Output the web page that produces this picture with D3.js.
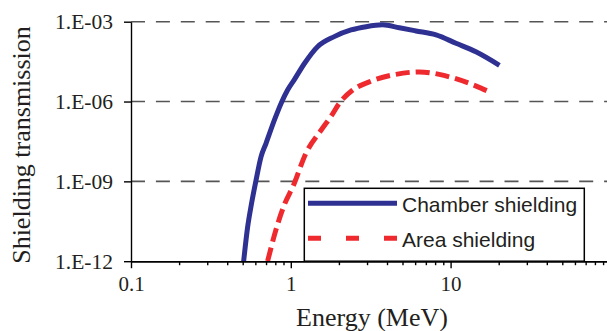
<!DOCTYPE html>
<html>
<head>
<meta charset="utf-8">
<script src="https://cdn.jsdelivr.net/npm/d3@7"></script>
<style>
  body { margin: 0; background: #fff; }
  .chart { width: 607px; height: 331px; overflow: hidden; }
</style>
</head>
<body>
<div class="chart"></div>
<script>
// energy in MeV, transmission
const chamberEnergy = [0.507, 0.537, 0.563, 0.606, 0.651, 0.70, 0.789, 0.869, 0.955, 1.05, 1.22, 1.47, 1.87, 2.38, 2.96, 3.75, 4.78, 6.07, 8.11, 10.8, 14.4, 20.2];
const chamberValues = [1e-12, 1.95e-11, 1.1e-10, 1.1e-9, 8.3e-9, 2.7e-8, 2.0e-7, 8.5e-7, 2.7e-6, 6.5e-6, 2.75e-5, 1.15e-4, 2.75e-4, 4.9e-4, 6.5e-4, 7.6e-4, 5.9e-4, 4.5e-4, 3.2e-4, 1.55e-4, 7.4e-5, 2.3e-5];

const areaEnergy = [0.716, 0.807, 0.91, 1.04, 1.24, 1.55, 1.78, 2.01, 2.44, 3.1, 4.55, 6.37, 8.49, 10.3, 15.5, 17.5];
const areaValues = [1e-12, 1.5e-11, 1.3e-10, 7.2e-10, 1.1e-8, 8.5e-8, 2.7e-7, 8.5e-7, 2.7e-6, 5.5e-6, 1.05e-5, 1.3e-5, 1.05e-5, 7.8e-6, 3.2e-6, 2.3e-6];

const seriesNames = ['Chamber shielding', 'Area shielding'];
const yTicks = [1e-12, 1e-9, 1e-6, 1e-3];
const yTickLabels = ['1.E-12', '1.E-09', '1.E-06', '1.E-03'];
const xMajor = [0.1, 1, 10, 100];
const xMinor = [0.2, 0.3, 0.4, 0.5, 0.6, 0.7, 0.8, 0.9, 2, 3, 4, 5, 6, 7, 8, 9, 20, 30, 40, 50, 60, 70, 80, 90];

const margin = { top: 21.7, left: 131 };
const width = 607, height = 331;
const plotBottom = 261.2;
const textColor = '#231f20';

let svg = d3.select('.chart').append('svg')
  .attr('width', width).attr('height', height);

let xscale = d3.scaleLog().domain([0.1, 100]).range([margin.left, margin.left + 3 * 159.8]);
let yscale = d3.scaleLog().domain([1e-12, 1e-3]).range([plotBottom, margin.top]);

// dashed grid
svg.append('g').selectAll('line')
  .data(yTicks.slice(1))
  .enter().append('line')
  .attr('x1', margin.left).attr('x2', xscale(100))
  .attr('y1', d => yscale(d)).attr('y2', d => yscale(d))
  .attr('stroke', '#555').attr('stroke-width', 1.6)
  .attr('stroke-dasharray', '14,10.9');

svg.append('defs').append('clipPath').attr('id', 'plot')
  .append('rect').attr('x', margin.left).attr('y', 0)
  .attr('width', width - margin.left).attr('height', plotBottom);

let line = d3.line()
  .x(d => xscale(d[0]))
  .y(d => yscale(d[1]))
  .curve(d3.curveMonotoneX);

let chamber = chamberEnergy.map((e, i) => [e, chamberValues[i]]);
let area = areaEnergy.map((e, i) => [e, areaValues[i]]);

let curves = svg.append('g').attr('clip-path', 'url(#plot)');
curves.append('path')
  .datum(chamber)
  .attr('fill', 'none')
  .attr('stroke', '#2e3192')
  .attr('stroke-width', 5)
  .attr('stroke-linejoin', 'round')
  .attr('d', line);
curves.append('path')
  .datum(area)
  .attr('fill', 'none')
  .attr('stroke', '#ee2a2f')
  .attr('stroke-width', 5)
  .attr('stroke-dasharray', '14,6')
  .attr('d', line);

// axes
let xMinorAxis = d3.axisBottom(xscale).tickValues(xMinor).tickSize(4).tickSizeOuter(0).tickFormat('');
let xAxis = d3.axisBottom(xscale).tickValues(xMajor).tickSize(7).tickSizeOuter(0).tickPadding(8)
  .tickFormat(d => d === 100 ? '' : String(d));
let yAxis = d3.axisLeft(yscale).tickValues(yTicks).tickSize(7).tickSizeOuter(0).tickPadding(11)
  .tickFormat((d, i) => yTickLabels[i]);

svg.append('g').attr('transform', 'translate(0,' + plotBottom + ')').call(xMinorAxis);
let gx = svg.append('g').attr('transform', 'translate(0,' + plotBottom + ')').call(xAxis);
let gy = svg.append('g').attr('transform', 'translate(' + margin.left + ',0)').call(yAxis);

svg.selectAll('.domain, .tick line').attr('stroke', '#000').attr('stroke-width', 1.4);
gx.selectAll('text')
  .attr('font-family', '"Liberation Serif", "Times New Roman", serif')
  .attr('font-size', 21).attr('fill', textColor);
gy.selectAll('text')
  .attr('font-family', '"Liberation Serif", "Times New Roman", serif')
  .attr('font-size', 21.5).attr('fill', textColor).attr('dy', '0.32em');

// axis titles
svg.append('text')
  .attr('x', 372).attr('y', 326)
  .attr('text-anchor', 'middle')
  .attr('font-family', '"Liberation Serif", "Times New Roman", serif')
  .attr('font-size', 26).attr('fill', textColor)
  .text('Energy (MeV)');
svg.append('text')
  .attr('transform', 'translate(30,145) rotate(-90)')
  .attr('text-anchor', 'middle')
  .attr('font-family', '"Liberation Serif", "Times New Roman", serif')
  .attr('font-size', 26).attr('fill', textColor)
  .text('Shielding transmission');

// legend
let legend = svg.append('g');
legend.append('rect')
  .attr('x', 304.3).attr('y', 188.3)
  .attr('width', 280).attr('height', plotBottom - 188.3)
  .attr('fill', '#fff').attr('stroke', '#000').attr('stroke-width', 1.5);
legend.append('line')
  .attr('x1', 308).attr('x2', 397).attr('y1', 203.3).attr('y2', 203.3)
  .attr('stroke', '#2e3192').attr('stroke-width', 5);
legend.append('line')
  .attr('x1', 308).attr('x2', 397).attr('y1', 238.3).attr('y2', 238.3)
  .attr('stroke', '#ee2a2f').attr('stroke-width', 5)
  .attr('stroke-dasharray', '13,25');
legend.selectAll('text.lab')
  .data(seriesNames)
  .enter().append('text')
  .attr('class', 'lab')
  .attr('x', 402)
  .attr('y', (d, i) => 211.7 + i * 35)
  .attr('font-family', '"Liberation Sans", Arial, sans-serif')
  .attr('font-size', 21).attr('fill', textColor)
  .text(d => d);
</script>
</body>
</html>
